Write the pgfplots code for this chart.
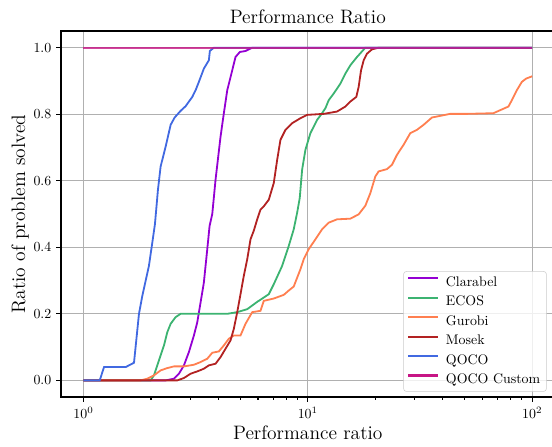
\documentclass[border=0pt]{standalone}
\usepackage{pgfplots}
\pgfplotsset{compat=1.18}
\definecolor{cClarabel}{HTML}{9400D3}
\definecolor{cECOS}{HTML}{3CB371}
\definecolor{cGurobi}{HTML}{FF7F50}
\definecolor{cMosek}{HTML}{B22222}
\definecolor{cQOCO}{HTML}{4169E1}
\definecolor{cCustom}{HTML}{C71585}
\definecolor{gridc}{HTML}{B0B0B0}
\definecolor{legc}{HTML}{CCCCCC}
\begin{document}
\begin{tikzpicture}
\begin{axis}[name=ax,
  width=355.4pt, height=263.5pt, scale only axis,
  xmode=log, xmin=0.7943, xmax=125.89, ymin=-0.05, ymax=1.05,
  clip mode=individual,
  xtick={1,10,100}, ytick={0,0.2,0.4,0.6,0.8,1.0},
  xtick pos=left, ytick pos=left,
  tick align=outside,
  major tick length=3.5pt, minor tick length=2pt,
  every tick/.style={black, line width=0.8pt},
  axis line style={draw=none},
  grid=major, major grid style={gridc, line width=0.8pt},
  tick label style={font=\fontsize{10}{12}\selectfont},
  yticklabel style={/pgf/number format/.cd, fixed, zerofill, precision=1},
  xlabel={Performance ratio}, ylabel={Ratio of problem solved},
  label style={font=\fontsize{14}{17}\selectfont},
  xlabel style={at={(axis description cs:0.5,-0.1175)}, anchor=base},
  ylabel style={at={(axis description cs:-0.0729,0.5)}, anchor=base, rotate=0},
  legend style={at={(axis description cs:1,0)}, anchor=south east, xshift=-5.7pt, yshift=3.8pt,
    draw=legc, rounded corners=2pt, fill=white, fill opacity=0.8, text opacity=1,
    font=\fontsize{10}{12}\selectfont, inner xsep=2.5pt, inner ysep=2.7pt, row sep=3pt,
    nodes={inner xsep=2pt, inner ysep=0pt, text height=8pt, text depth=3pt}},
  legend cell align=left,
  legend image code/.code={\draw[#1, line width=1.5pt, opacity=1] (0pt,3.3pt) -- (21.6pt,3.3pt); \path (24.6pt,3.3pt);},
  every axis plot/.append style={line width=1.3pt},
]
\addplot[cClarabel] coordinates {
(1,0) (2.325,0) (2.531,0.005) (2.664,0.020) (2.804,0.045) (2.951,0.085) (3.107,0.135)
(3.217,0.175) (3.327,0.234) (3.441,0.294) (3.563,0.394) (3.649,0.464) (3.751,0.500)
(3.880,0.603) (4.084,0.733) (4.225,0.803) (4.374,0.872) (4.604,0.932) (4.762,0.972)
(4.977,0.987) (5.276,0.990) (5.651,1.000) (100,1.000)};
\addlegendentry{Clarabel}
\addplot[cECOS] coordinates {
(1,0) (1.993,0) (2.062,0.015) (2.134,0.045) (2.208,0.075) (2.285,0.105) (2.365,0.145)
(2.447,0.170) (2.575,0.190) (2.710,0.200) (4.374,0.200) (4.846,0.205) (5.370,0.214)
(5.949,0.236) (6.364,0.249) (6.699,0.259) (7.051,0.289) (7.684,0.344) (8.222,0.404)
(8.654,0.454) (8.963,0.504) (9.204,0.548) (9.432,0.633) (9.757,0.693) (10.27,0.743)
(11.00,0.783) (11.58,0.803) (11.98,0.818) (12.39,0.842) (13.04,0.862) (13.97,0.892)
(14.70,0.922) (15.47,0.947) (16.57,0.972) (18.05,1.000) (100,1.000)};
\addlegendentry{ECOS}
\addplot[cGurobi] coordinates {
(1,0) (1.799,0) (1.927,0.005) (2.062,0.015) (2.208,0.030) (2.365,0.037) (2.531,0.042)
(2.804,0.042) (3.107,0.047) (3.327,0.055) (3.563,0.065) (3.751,0.083) (4.013,0.087)
(4.225,0.105) (4.446,0.125) (4.680,0.135) (5.012,0.135) (5.276,0.170) (5.651,0.205)
(6.152,0.209) (6.364,0.239) (7.051,0.246) (7.813,0.257) (8.222,0.270) (8.654,0.282)
(9.270,0.334) (9.587,0.364) (10.09,0.394) (10.81,0.424) (11.58,0.454) (12.39,0.474)
(13.50,0.484) (15.47,0.486) (16.85,0.499) (18.05,0.525) (19.00,0.563) (20.00,0.613)
(20.68,0.628) (22.54,0.635) (23.72,0.648) (24.97,0.678) (26.72,0.708) (28.62,0.743)
(30.65,0.753) (32.80,0.768) (35.74,0.790) (38.92,0.795) (43.11,0.801) (51.16,0.801)
(67.20,0.803) (71.96,0.812) (78.37,0.823) (81.15,0.842) (85.41,0.872) (89.89,0.897)
(93.94,0.907) (100,0.914)};
\addlegendentry{Gurobi}
\addplot[cMosek] coordinates {
(1,0) (1.182,0) (2.620,0) (2.804,0.007) (3.003,0.020) (3.217,0.027) (3.441,0.035)
(3.622,0.045) (3.880,0.050) (4.084,0.070) (4.298,0.095) (4.524,0.120) (4.680,0.155)
(4.846,0.205) (5.012,0.259) (5.184,0.314) (5.370,0.364) (5.554,0.424) (5.745,0.450)
(5.949,0.484) (6.152,0.513) (6.364,0.523) (6.699,0.543) (7.051,0.593) (7.302,0.663)
(7.553,0.723) (7.950,0.753) (8.514,0.773) (9.270,0.788) (9.929,0.798) (11.77,0.801)
(13.50,0.808) (14.70,0.823) (15.47,0.838) (16.45,0.852) (16.85,0.882) (17.27,0.932)
(17.74,0.962) (18.36,0.982) (19.33,0.995) (20.68,1.000) (100,1.000)};
\addlegendentry{Mosek}
\addplot[cQOCO] coordinates {
(1,0) (1.182,0) (1.235,0.040) (1.543,0.040) (1.680,0.053) (1.768,0.200) (1.830,0.254)
(1.958,0.344) (2.007,0.394) (2.083,0.470) (2.148,0.573) (2.208,0.643) (2.325,0.703)
(2.447,0.768) (2.549,0.790) (2.710,0.810) (2.853,0.824) (3.056,0.852) (3.161,0.872)
(3.269,0.897) (3.441,0.937) (3.622,0.962) (3.660,0.990) (3.814,1.000) (100,1.000)};
\addlegendentry{QOCO}
\addplot[cCustom, opacity=0.8] coordinates {(1,1) (100,1)};
\addlegendentry{QOCO Custom}
\draw[black, line width=0.8pt] (rel axis cs:1.02,1) -- (rel axis cs:0,1) -- (rel axis cs:0,0) -- (rel axis cs:1.02,0);
\node[anchor=base, font=\fontsize{14}{17}\selectfont] at (rel axis cs:0.5,1.0209) {Performance Ratio};
\end{axis}
\pgfresetboundingbox
\path ([shift={(-43.92pt,-36pt)}]ax.south west) rectangle ([shift={(353.52pt,285.84pt)}]ax.south west);
\end{tikzpicture}
\end{document}
